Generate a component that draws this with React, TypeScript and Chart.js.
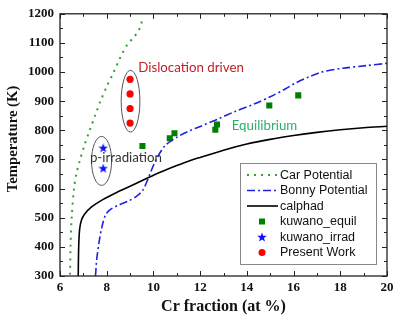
import React, { useEffect, useRef } from "react";
import { Chart, registerables } from "chart.js";

Chart.register(...registerables);

// ---- data ----
const carX = [6.43, 6.45, 6.5, 6.6, 6.7, 6.86, 7.05, 7.27, 7.5, 7.73, 8.0, 8.3, 8.58, 8.88, 9.12, 9.35, 9.47, 9.53];
const carT = [305, 400, 500, 600, 650, 700, 750, 800, 850, 900, 950, 1000, 1050, 1094, 1116, 1140, 1162, 1188];

const bonnyX = [7.52, 7.57, 7.68, 7.8, 7.95, 8.15, 8.5, 8.92, 9.3, 9.55, 9.75, 9.95, 10.15, 10.5, 11.0, 11.5, 12.0, 12.8, 13.5, 14.3, 15.0, 15.6, 16.1, 16.7, 17.2, 18.1, 19.1, 20.0];
const bonnyT = [300, 355, 420, 470, 510, 528, 543, 557, 575, 595, 630, 670, 705, 748, 776, 797, 813, 840, 865, 890, 915, 940, 963, 985, 1000, 1013, 1022, 1030];

const calphadX = [6.78, 6.8, 6.84, 6.92, 7.05, 7.35, 7.85, 8.4, 9.0, 9.5, 10.0, 10.5, 11.0, 11.5, 12.0, 13.0, 14.0, 15.0, 16.0, 17.0, 18.0, 19.0, 20.0];
const calphadT = [300, 400, 460, 492, 512, 537, 563, 586, 608, 627, 646, 663, 679, 694, 707, 732, 753, 769, 782, 793, 802, 809, 814];

const equilX = [9.53, 10.7, 10.9, 12.65, 12.72, 14.96, 16.2];
const equilT = [746, 773, 790, 802, 820, 885, 920];

const irradX = [7.85, 7.85];
const irradT = [740, 670];

const presentX = [9.0, 9.0, 9.0, 9.0];
const presentT = [975, 925, 875, 825];

const seriesLabels = ["Car Potential", "Bonny Potential", "calphad", "kuwano_equil", "kuwano_irrad", "Present Work"];

const xMin = 6, xMax = 20, xStep = 2;
const yMin = 300, yMax = 1200, yStep = 100;

const xTitle = "Cr fraction (at %)";
const yTitle = "Temperature (K)";

// annotations in data coordinates
const ellipseCX = [9.02, 7.78];
const ellipseCY = [900, 695];
const ellipseRX = [0.4, 0.43];
const ellipseRY = [106, 84];

const noteText = ["Dislocation driven", "p-irradiation", "Equilibrium"];
const noteX = [9.35, 7.28, 13.35];
const noteY = [1016, 705, 817];
const noteColor = ["#c0202a", "#333333", "#2aae6a"];

const zip = (xs: number[], ys: number[]) => xs.map((x, i) => ({ x, y: ys[i] }));

const SERIF = "'Liberation Serif', 'Times New Roman', serif";

function makeStar(size: number, color: string) {
  const c = document.createElement("canvas");
  c.width = size;
  c.height = size;
  const g = c.getContext("2d")!;
  const cx = size / 2, cy = size / 2 + 0.4;
  const ro = size / 2, ri = ro * 0.42;
  g.beginPath();
  for (let i = 0; i < 10; i++) {
    const r = i % 2 === 0 ? ro : ri;
    const a = -Math.PI / 2 + (i * Math.PI) / 5;
    const px = cx + r * Math.cos(a), py = cy + r * Math.sin(a);
    if (i === 0) g.moveTo(px, py); else g.lineTo(px, py);
  }
  g.closePath();
  g.fillStyle = color;
  g.fill();
  return c;
}

export default function App() {
  const ref = useRef<HTMLCanvasElement | null>(null);

  useEffect(() => {
    if (!ref.current) return;
    const star = makeStar(10, "#1010ff");

    const frameTicks = {
      id: "frameTicks",
      afterDatasetsDraw(chart: any) {
        const { ctx, chartArea: a, scales } = chart;
        const xs = scales.x, ys = scales.y;
        ctx.save();
        // annotations
        ctx.strokeStyle = "#555";
        ctx.lineWidth = 1;
        for (let i = 0; i < ellipseCX.length; i++) {
          const cx = xs.getPixelForValue(ellipseCX[i]);
          const cy = ys.getPixelForValue(ellipseCY[i]);
          const rx = Math.abs(xs.getPixelForValue(ellipseCX[i] + ellipseRX[i]) - cx);
          const ry = Math.abs(ys.getPixelForValue(ellipseCY[i] + ellipseRY[i]) - cy);
          ctx.beginPath();
          ctx.ellipse(cx, cy, rx, ry, 0, 0, Math.PI * 2);
          ctx.stroke();
        }
        ctx.font = "13.3px Lato";
        ctx.textBaseline = "middle";
        ctx.textAlign = "left";
        for (let i = 0; i < noteText.length; i++) {
          ctx.fillStyle = noteColor[i];
          ctx.fillText(noteText[i], xs.getPixelForValue(noteX[i]), ys.getPixelForValue(noteY[i]));
        }
        // frame
        ctx.strokeStyle = "#222";
        ctx.lineWidth = 1.3;
        ctx.strokeRect(a.left, a.top, a.right - a.left, a.bottom - a.top);
        ctx.lineWidth = 1;
        ctx.beginPath();
        for (let v = xMin; v <= xMax; v += 1) {
          const p = Math.round(xs.getPixelForValue(v)) + 0.5;
          const len = (v - xMin) % xStep === 0 ? 5 : 3;
          ctx.moveTo(p, a.bottom); ctx.lineTo(p, a.bottom - len);
          ctx.moveTo(p, a.top); ctx.lineTo(p, a.top + len);
        }
        for (let v = yMin; v <= yMax; v += yStep / 2) {
          const p = Math.round(ys.getPixelForValue(v)) + 0.5;
          const len = (v - yMin) % yStep === 0 ? 5 : 3;
          ctx.moveTo(a.left, p); ctx.lineTo(a.left + len, p);
          ctx.moveTo(a.right, p); ctx.lineTo(a.right - len, p);
        }
        ctx.stroke();
        ctx.restore();
      },
      afterDraw(chart: any) {
        const { ctx, chartArea: a } = chart;
        ctx.save();
        // y axis title
        ctx.translate(13.5, (a.top + a.bottom) / 2 - 6);
        ctx.rotate(-Math.PI / 2);
        ctx.font = "bold 14.7px " + SERIF;
        ctx.fillStyle = "#111";
        ctx.textAlign = "center";
        ctx.textBaseline = "middle";
        ctx.fillText(yTitle, 0, 0);
        ctx.restore();

        const bx = 240, by = 163.5, bw = 136, bh = 101;
        ctx.save();
        ctx.fillStyle = "#fff";
        ctx.fillRect(bx, by, bw, bh);
        ctx.strokeStyle = "#888";
        ctx.lineWidth = 1;
        ctx.strokeRect(bx + 0.5, by, bw, bh);
        const ds = chart.data.datasets;
        ctx.font = "12.5px 'Liberation Sans'";
        ctx.textBaseline = "middle";
        ctx.textAlign = "left";
        for (let i = 0; i < ds.length; i++) {
          const y = by + 11.5 + i * 15.5;
          const d = ds[i];
          if (d.showLine) {
            ctx.save();
            ctx.strokeStyle = d.borderColor;
            ctx.lineWidth = d.borderWidth;
            ctx.setLineDash(d.borderDash || []);
            ctx.beginPath();
            ctx.moveTo(bx + 7, y);
            ctx.lineTo(bx + 38, y);
            ctx.stroke();
            ctx.restore();
          } else {
            const mx = bx + 22;
            if (d.pointStyle === "rect") {
              ctx.fillStyle = d.backgroundColor;
              ctx.fillRect(mx - 3, y - 3, 6, 6);
            } else if (d.pointStyle === "circle") {
              ctx.fillStyle = d.backgroundColor;
              ctx.beginPath();
              ctx.arc(mx, y, 3.5, 0, Math.PI * 2);
              ctx.fill();
            } else {
              ctx.drawImage(star, mx - 5, y - 5);
            }
          }
          ctx.fillStyle = "#111";
          ctx.fillText(d.label, bx + 40, y + 0.5);
        }
        ctx.restore();
      },
    };

    const chart = new Chart(ref.current, {
      type: "scatter",
      data: {
        datasets: [
          {
            label: seriesLabels[0], data: zip(carX, carT), showLine: true,
            borderColor: "#33a033", borderWidth: 2, borderDash: [2, 5], pointRadius: 0, tension: 0.3,
          },
          {
            label: seriesLabels[1], data: zip(bonnyX, bonnyT), showLine: true,
            borderColor: "#2020e8", borderWidth: 1.6, borderDash: [8, 3, 2, 3], pointRadius: 0, tension: 0.3,
          },
          {
            label: seriesLabels[2], data: zip(calphadX, calphadT), showLine: true,
            borderColor: "#000000", borderWidth: 1.6, pointRadius: 0, tension: 0.3,
          },
          {
            label: seriesLabels[3], data: zip(equilX, equilT), showLine: false,
            pointStyle: "rect", pointRadius: 4.3, backgroundColor: "#008000", borderColor: "#008000", borderWidth: 0,
          },
          {
            label: seriesLabels[4], data: zip(irradX, irradT), showLine: false,
            pointStyle: star as any, pointRadius: 5, backgroundColor: "#1010ff", borderColor: "#1010ff",
          },
          {
            label: seriesLabels[5], data: zip(presentX, presentT), showLine: false,
            pointStyle: "circle", pointRadius: 3.6, backgroundColor: "#ff0000", borderColor: "#ff0000", borderWidth: 0,
          },
        ] as any,
      },
      options: {
        responsive: false,
        animation: false,
        events: [],
        layout: { padding: { top: 13, right: 22, left: 0, bottom: 0 } },
        plugins: { legend: { display: false }, tooltip: { enabled: false } },
        scales: {
          x: {
            type: "linear", min: xMin, max: xMax,
            grid: { display: false, drawTicks: false },
            border: { display: false },
            ticks: {
              stepSize: xStep, color: "#111", padding: 4, callback: (v: any) => String(v),
              font: { family: SERIF, size: 13, weight: "bold" },
            },
            title: {
              display: true, text: xTitle, color: "#111", padding: { top: 0, bottom: 8.5 },
              font: { family: SERIF, size: 16, weight: "bold" },
            },
            afterFit: (s: any) => { s.height = 49; },
          },
          y: {
            type: "linear", min: yMin, max: yMax,
            grid: { display: false, drawTicks: false },
            border: { display: false },
            ticks: {
              stepSize: yStep, color: "#111", padding: 6, callback: (v: any) => String(v),
              font: { family: SERIF, size: 13, weight: "bold" },
            },
            title: { display: false },
            afterFit: (s: any) => { s.width = 60; },
          },
        },
      },
      plugins: [frameTicks],
    } as any);
    return () => chart.destroy();
  }, []);

  return (
    <div style={{ position: "absolute", left: 0, top: 0, width: 409, height: 325, background: "#fff" }}>
      <canvas ref={ref} width={409} height={325} style={{ display: "block" }} />
    </div>
  );
}
